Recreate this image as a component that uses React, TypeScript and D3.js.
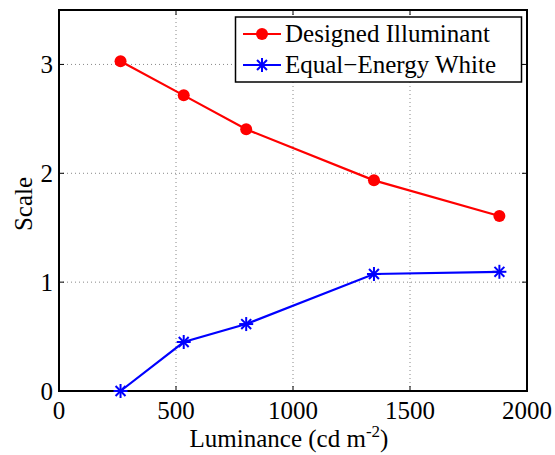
import React from "react";
import * as d3 from "d3";

const luminance = [263, 533, 800, 1346, 1882];
const designed = [3.03, 2.716, 2.404, 1.935, 1.607];
const equalEnergy = [0.0, 0.45, 0.615, 1.075, 1.095];
const xTicks = [0, 500, 1000, 1500, 2000];
const yTicks = [0, 1, 2, 3];
const seriesNames = ["Designed Illuminant", "Equal\u2212Energy White"];

const W = 555, H = 455;
const L = 59, R = 527, T = 10, B = 391;
const FONT = "Liberation Serif";

function Star({ x, y, s, color }: { x: number; y: number; s: number; color: string }) {
  const d = s * 0.7071;
  return (
    <g stroke={color} strokeWidth={2}>
      <line x1={x - s} y1={y} x2={x + s} y2={y} />
      <line x1={x} y1={y - s} x2={x} y2={y + s} />
      <line x1={x - d} y1={y - d} x2={x + d} y2={y + d} />
      <line x1={x - d} y1={y + d} x2={x + d} y2={y - d} />
    </g>
  );
}

export default function App() {
  const x = d3.scaleLinear().domain([0, 2000]).range([L, R]);
  const y = d3.scaleLinear().domain([0, 3.5]).range([B, T]);
  const line = d3.line<[number, number]>().x((d) => x(d[0])).y((d) => y(d[1]));
  const redPts = luminance.map((v, i) => [v, designed[i]] as [number, number]);
  const bluePts = luminance.map((v, i) => [v, equalEnergy[i]] as [number, number]);
  const fs = 25;
  const ts = { fontFamily: FONT };
  return (
    <svg width={W} height={H} style={{ position: "absolute", left: 0, top: 0, background: "#fff", fontFamily: FONT }}>
      <rect x={0} y={0} width={W} height={H} fill="#fff" />
      {xTicks.slice(1, -1).map((t) => (
        <line key={"gx" + t} x1={x(t)} x2={x(t)} y1={T} y2={B} stroke="#888" strokeWidth={1} strokeDasharray="1,3" />
      ))}
      {yTicks.slice(1).map((t) => (
        <line key={"gy" + t} x1={L} x2={R} y1={y(t)} y2={y(t)} stroke="#888" strokeWidth={1} strokeDasharray="1,3" />
      ))}
      {xTicks.map((t) => (
        <g key={"tx" + t}>
          <line x1={x(t)} x2={x(t)} y1={B} y2={B - 5} stroke="#000" />
          <line x1={x(t)} x2={x(t)} y1={T} y2={T + 5} stroke="#000" />
          <text x={x(t)} y={B + 28} textAnchor="middle" fontSize={fs} style={ts}>{t}</text>
        </g>
      ))}
      {yTicks.map((t) => (
        <g key={"ty" + t}>
          <line x1={L} x2={L + 5} y1={y(t)} y2={y(t)} stroke="#000" />
          <line x1={R} x2={R - 5} y1={y(t)} y2={y(t)} stroke="#000" />
          <text x={L - 6} y={y(t) + 9} textAnchor="end" fontSize={fs} style={ts}>{t}</text>
        </g>
      ))}
      <rect x={L} y={T} width={R - L} height={B - T} fill="none" stroke="#000" strokeWidth={2} />
      <path d={line(redPts) || ""} fill="none" stroke="#ff0000" strokeWidth={2.2} />
      {redPts.map((p, i) => (
        <circle key={"r" + i} cx={x(p[0])} cy={y(p[1])} r={6} fill="#ff0000" />
      ))}
      <path d={line(bluePts) || ""} fill="none" stroke="#0000ff" strokeWidth={2.2} />
      {bluePts.map((p, i) => (
        <Star key={"b" + i} x={x(p[0])} y={y(p[1])} s={7} color="#0000ff" />
      ))}
      <rect x={235.5} y={17} width={286} height={65} fill="#fff" stroke="#000" strokeWidth={1.5} />
      <line x1={243} x2={281} y1={34} y2={34} stroke="#ff0000" strokeWidth={2.2} />
      <circle cx={262} cy={34} r={6} fill="#ff0000" />
      <text x={285} y={42} fontSize={fs} style={ts}>{seriesNames[0]}</text>
      <line x1={243} x2={281} y1={65} y2={65} stroke="#0000ff" strokeWidth={2.2} />
      <Star x={262} y={65} s={7} color="#0000ff" />
      <text x={285} y={73} fontSize={fs} style={ts}>{seriesNames[1]}</text>
      <text x={289} y={447} textAnchor="middle" fontSize={fs} style={ts}>
        Luminance (cd m<tspan dy={-10} fontSize={17}>-2</tspan><tspan dy={10}>)</tspan>
      </text>
      <text transform={`translate(32, 204) rotate(-90)`} textAnchor="middle" fontSize={fs} style={ts}>Scale</text>
    </svg>
  );
}
